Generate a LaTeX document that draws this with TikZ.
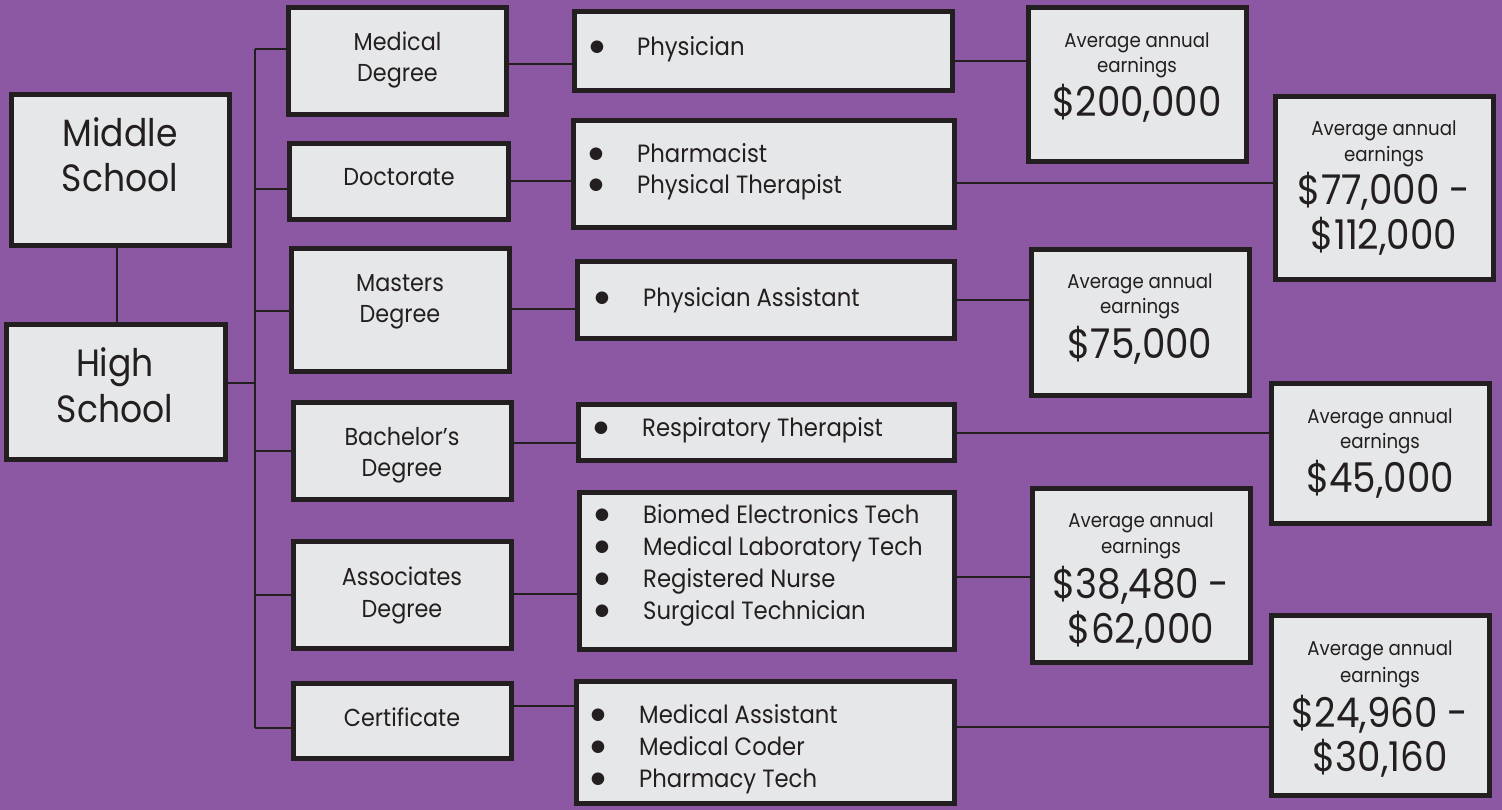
\documentclass[tikz,border=0pt]{standalone}
\usepackage{fontspec}
\setmainfont{Poppins}[FakeStretch=0.91]
\newfontfamily\symf{DejaVu Sans}
\definecolor{bgp}{RGB}{140,88,163}
\definecolor{bx}{RGB}{230,231,232}
\definecolor{bd}{RGB}{35,31,32}
\newcommand\fsch{\fontsize{38}{44}\selectfont}
\newcommand\fdeg{\fontsize{24.5}{31}\selectfont}
\newcommand\flst{\fontsize{25}{32}\selectfont}
\newcommand\fbul{\symf\fontsize{16.5}{17}\selectfont}
\newcommand\favg{\fontsize{20}{25}\selectfont}
\newcommand\famt{\fontsize{41}{45}\selectfont}
\begin{document}
\begin{tikzpicture}[x=1pt,y=-1pt,
  box/.style={draw=bd, fill=bx, line width=5pt, inner sep=0pt, rectangle},
  conn/.style={draw=bd, line width=2pt},
  txt/.style={text=bd, inner sep=0pt, anchor=base},
  ltxt/.style={text=bd, inner sep=0pt, anchor=base west, font=\flst},
  bul/.style={text=bd, inner sep=0pt, anchor=base, font=\fbul, yshift=4pt}]
\fill[bgp] (0,0) rectangle (1502,810);
\useasboundingbox (0,0) rectangle (1502,810);
% boxes
\node[box, minimum width=218pt, minimum height=151pt] (ms) at (120.5,170) {};
\node[box, minimum width=219pt, minimum height=135pt] (hs) at (116,392) {};
\node[box, minimum width=218pt, minimum height=107pt] (med) at (397.5,61) {};
\node[box, minimum width=219pt, minimum height=76pt] (doc) at (399,181.5) {};
\node[box, minimum width=218pt, minimum height=123pt] (mas) at (400.5,310) {};
\node[box, minimum width=218pt, minimum height=97pt] (bac) at (402.5,451) {};
\node[box, minimum width=218pt, minimum height=107pt] (ass) at (402.5,595) {};
\node[box, minimum width=218pt, minimum height=75pt] (cer) at (402.5,721) {};
\node[box, minimum width=378pt, minimum height=79pt] (l1) at (763.5,51) {};
\node[box, minimum width=381pt, minimum height=107pt] (l2) at (764,174) {};
\node[box, minimum width=377pt, minimum height=77pt] (l3) at (766,300) {};
\node[box, minimum width=376pt, minimum height=56pt] (l4) at (766.5,432.5) {};
\node[box, minimum width=375pt, minimum height=157pt] (l5) at (767,571) {};
\node[box, minimum width=378pt, minimum height=122pt] (l6) at (765.5,742.5) {};
\node[box, minimum width=218pt, minimum height=154pt] (e1) at (1137.5,84.5) {};
\node[box, minimum width=218pt, minimum height=183pt] (e2) at (1384.5,188) {};
\node[box, minimum width=218pt, minimum height=146pt] (e3) at (1140.5,322.5) {};
\node[box, minimum width=218pt, minimum height=140pt] (e4) at (1380.5,453.5) {};
\node[box, minimum width=218pt, minimum height=174pt] (e5) at (1141.5,575.5) {};
\node[box, minimum width=218pt, minimum height=180pt] (e6) at (1380.5,705.5) {};
% connectors
\coordinate (tt) at (255,49);
\coordinate (tb) at (255,728);
\draw[conn] (ms.south -| 117,0) -- (hs.north -| 117,0);
\draw[conn] (tt) -- (tb);
\draw[conn] (hs.east |- 0,383) -- (tt |- 0,383);
\draw[conn] (tt |- 0,49) -- (med.west |- 0,49);
\draw[conn] (tt |- 0,189) -- (doc.west |- 0,189);
\draw[conn] (tt |- 0,311) -- (mas.west |- 0,311);
\draw[conn] (tt |- 0,451) -- (bac.west |- 0,451);
\draw[conn] (tt |- 0,595) -- (ass.west |- 0,595);
\draw[conn] (tt |- 0,728) -- (cer.west |- 0,728);
\draw[conn] (med.east |- 0,64) -- (l1.west |- 0,64);
\draw[conn] (doc.east |- 0,181) -- (l2.west |- 0,181);
\draw[conn] (mas.east |- 0,309) -- (l3.west |- 0,309);
\draw[conn] (bac.east |- 0,443) -- (l4.west |- 0,443);
\draw[conn] (ass.east |- 0,594) -- (l5.west |- 0,594);
\draw[conn] (cer.east |- 0,706) -- (l6.west |- 0,706);
\draw[conn] (l1.east |- 0,61) -- (e1.west |- 0,61);
\draw[conn] (l2.east |- 0,183) -- (e2.west |- 0,183);
\draw[conn] (l3.east |- 0,300) -- (e3.west |- 0,300);
\draw[conn] (l4.east |- 0,433) -- (e4.west |- 0,433);
\draw[conn] (l5.east |- 0,577) -- (e5.west |- 0,577);
\draw[conn] (l6.east |- 0,727) -- (e6.west |- 0,727);
% school texts
\node[txt, font=\fsch] (mst1) at (120,147) {Middle};
\node[txt, font=\fsch] (mst2) at (120,192) {School};
\node[txt, font=\fsch] (hst1) at (115,376) {High};
\node[txt, font=\fsch] (hst2) at (115,422) {School};
% degree texts
\node[txt, font=\fdeg] (medt1) at (397.5,51) {Medical};
\node[txt, font=\fdeg] (medt2) at (397.5,82) {Degree};
\node[txt, font=\fdeg] (doct) at (399,186) {Doctorate};
\node[txt, font=\fdeg] (mast1) at (400,292) {Masters};
\node[txt, font=\fdeg] (mast2) at (400,323) {Degree};
\node[txt, font=\fdeg] (bact1) at (402,445) {Bachelor’s};
\node[txt, font=\fdeg] (bact2) at (402,476) {Degree};
\node[txt, font=\fdeg] (asst1) at (402,585) {Associates};
\node[txt, font=\fdeg] (asst2) at (402,617) {Degree};
\node[txt, font=\fdeg] (cert) at (402,726) {Certificate};
% lists
\node[bul] (b11) at (597,56) {●};
\node[ltxt] (t11) at (637,56) {Physician};
\node[bul] (b21) at (596,163) {●};
\node[ltxt] (t21) at (637,163) {Pharmacist};
\node[bul] (b22) at (596,194) {●};
\node[ltxt] (t22) at (637,194) {Physical Therapist};
\node[bul] (b31) at (602,307) {●};
\node[ltxt] (t31) at (643,307) {Physician Assistant};
\node[bul] (b41) at (601,436) {●};
\node[ltxt] (t41) at (642,436) {Respiratory Therapist};
\node[bul] (b51) at (602,523) {●};
\node[ltxt] (t51) at (643,523) {Biomed Electronics Tech};
\node[bul] (b52) at (602,555) {●};
\node[ltxt] (t52) at (643,555) {Medical Laboratory Tech};
\node[bul] (b53) at (602,587) {●};
\node[ltxt] (t53) at (643,587) {Registered Nurse};
\node[bul] (b54) at (602,619) {●};
\node[ltxt] (t54) at (643,619) {Surgical Technician};
\node[bul] (b61) at (598,723) {●};
\node[ltxt] (t61) at (639,723) {Medical Assistant};
\node[bul] (b62) at (598,755) {●};
\node[ltxt] (t62) at (639,755) {Medical Coder};
\node[bul] (b63) at (598,787) {●};
\node[ltxt] (t63) at (639,787) {Pharmacy Tech};
% earnings
\node[txt, font=\favg] (a1) at (1137,48) {Average annual};
\node[txt, font=\favg] (g1) at (1137,73) {earnings};
\node[txt, font=\famt] (m1) at (1137,117) {\$200,000};
\node[txt, font=\favg] (a2) at (1384,136) {Average annual};
\node[txt, font=\favg] (g2) at (1384,162) {earnings};
\node[txt, font=\famt] (m21) at (1384,205) {\$77,000 -};
\node[txt, font=\famt] (m22) at (1384,250) {\$112,000};
\node[txt, font=\favg] (a3) at (1140,289) {Average annual};
\node[txt, font=\favg] (g3) at (1140,314) {earnings};
\node[txt, font=\famt] (m3) at (1140,358) {\$75,000};
\node[txt, font=\favg] (a4) at (1380,423) {Average annual};
\node[txt, font=\favg] (g4) at (1380,448) {earnings};
\node[txt, font=\famt] (m4) at (1380,492) {\$45,000};
\node[txt, font=\favg] (a5) at (1141,527) {Average annual};
\node[txt, font=\favg] (g5) at (1141,553) {earnings};
\node[txt, font=\famt] (m51) at (1141,598) {\$38,480 -};
\node[txt, font=\famt] (m52) at (1141,643) {\$62,000};
\node[txt, font=\favg] (a6) at (1380,655) {Average annual};
\node[txt, font=\favg] (g6) at (1380,682) {earnings};
\node[txt, font=\famt] (m61) at (1380,727) {\$24,960 -};
\node[txt, font=\famt] (m62) at (1380,771) {\$30,160};
\end{tikzpicture}
\end{document}
